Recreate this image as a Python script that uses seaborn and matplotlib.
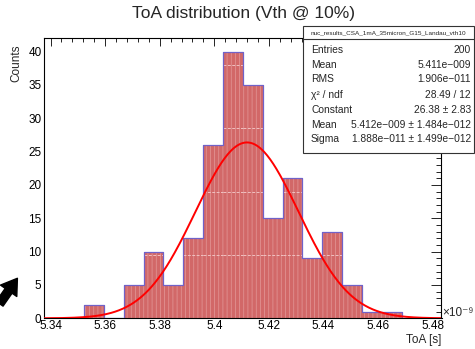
import numpy as np
import pandas as pd
import seaborn as sns
import matplotlib
matplotlib.use("Agg")
import matplotlib.pyplot as plt
from matplotlib.ticker import MultipleLocator, FuncFormatter
from matplotlib.patches import Rectangle, FancyArrowPatch
from matplotlib.lines import Line2D

# ---------------- data (x in units of 1e-9 s) ----------------
bin_low = 5.3377          # lower edge of histogram
bin_width = 0.00728       # bin width
counts = [0, 0, 2, 0, 5, 10, 5, 12, 26, 40, 35, 15, 21, 9, 13, 5, 1, 1, 0, 0]
fit_constant = 26.38
fit_mean = 5.412          # x1e-9
fit_sigma = 0.01888       # x1e-9
title = "ToA distribution (Vth @ 10%)"
stats_name = "nuc_results_CSA_1mA_35micron_G15_Landau_vth10"
stats_labels = ["Entries", "Mean", "RMS", "χ² / ndf", "Constant", "Mean", "Sigma"]
stats_values = ["200", "5.411e−009", "1.906e−011", "28.49 / 12", "26.38 ± 2.83",
                "5.412e−009 ± 1.484e−012", "1.888e−011 ± 1.499e−012"]
artifact_levels = [9.5, 19, 28.5, 38]   # faint light lines seen inside fill pattern

# ---------------- style ----------------
sns.set_theme(style="white")
plt.rcParams["font.family"] = ["Liberation Sans", "DejaVu Sans"]
plt.rcParams["hatch.linewidth"] = 0.5

W, H = 475, 349
fig = plt.figure(figsize=(W / 100, H / 100), dpi=100)

def fx(x):
    return x / W

def fy(y):
    return 1 - y / H

L, R, T, B = 44.3, 441.5, 38.3, 318.3
ax = fig.add_axes([fx(L), fy(B), (R - L) / W, (B - T) / H])

n = len(counts)
edges = [float(v) for v in (bin_low + bin_width * np.arange(n + 1))]
centers = [(a + b) / 2 for a, b in zip(edges[:-1], edges[1:])]
df = pd.DataFrame({"toa": centers, "n": [float(c) for c in counts]})

fill_col = "#d26868"
# filled histogram as one seamless step polygon
sns.histplot(data=df, x="toa", weights="n", bins=edges, element="step", fill=True,
             color=fill_col, alpha=1, linewidth=0, ax=ax)
for c in ax.collections:
    c.set_facecolor(fill_col)
    c.set_edgecolor("#e49a9a")
    c.set_hatch("||||")
    c.set_linewidth(0)
for ln in list(ax.lines):
    ln.remove()

# faint light dashed lines inside the fill
for lev in artifact_levels:
    for lo, hi, c in zip(edges[:-1], edges[1:], counts):
        if c > lev:
            ax.hlines(lev, lo, hi, colors="#f0c0c0", linestyles=(0, (3, 1.5)), lw=0.7, zorder=3)

# histogram outline
sns.histplot(data=df, x="toa", weights="n", bins=edges, element="step", fill=False,
             color="#7062c8", linewidth=0.9, ax=ax, zorder=4)

# gaussian fit
xs = np.linspace(edges[0], edges[-1], 400)
ys = fit_constant * np.exp(-0.5 * ((xs - fit_mean) / fit_sigma) ** 2)
sns.lineplot(x=xs, y=ys, color="#ff0000", linewidth=1.4, ax=ax, zorder=5)

ax.set_xlim(edges[0], edges[-1])
ax.set_ylim(0, 1.05 * max(counts))
ax.set_xlabel("")
ax.set_ylabel("")

ax.xaxis.set_major_locator(MultipleLocator(0.02))
ax.xaxis.set_minor_locator(MultipleLocator(0.004))
ax.xaxis.set_major_formatter(FuncFormatter(lambda v, p: "%g" % round(v, 3)))
ax.yaxis.set_major_locator(MultipleLocator(5))
ax.yaxis.set_minor_locator(MultipleLocator(1))
ax.yaxis.set_major_formatter(FuncFormatter(lambda v, p: "%d" % round(v)))

ax.tick_params(axis="both", which="both", direction="in", top=True, right=True,
               colors="black", labelsize=8.5, width=0.6)
ax.tick_params(axis="x", which="major", length=6, pad=1.5)
ax.tick_params(axis="x", which="minor", length=3)
ax.tick_params(axis="y", which="major", length=7.5, pad=2)
ax.tick_params(axis="y", which="minor", length=3.7)
for s in ax.spines.values():
    s.set_color("black")
    s.set_linewidth(0.8)

# axis titles (ROOT style)
fig.text(fx(R), fy(334), "ToA [s]", ha="right", va="top", fontsize=8.5)
fig.text(fx(16), fy(44), "Counts", ha="center", va="top", rotation=90, fontsize=8.5)
fig.text(fx(442), fy(313), "×10⁻⁹", ha="left", va="center", fontsize=8.5)

# title
fig.text(fx(244), fy(13.5), title, ha="center", va="center", fontsize=12.5)

# stats box
bx0, by0, bx1, by1 = 303, 26, 474, 153
fig.patches.append(Rectangle((fx(bx0), fy(by1)), (bx1 - bx0) / W, (by1 - by0) / H,
                             transform=fig.transFigure, facecolor="white",
                             edgecolor="#333333", linewidth=0.8, zorder=10))
fig.lines.append(Line2D([fx(bx0), fx(bx1)], [fy(39), fy(39)], transform=fig.transFigure,
                        color="#333333", linewidth=0.8, zorder=11))
fig.text(fx((bx0 + bx1) / 2), fy(33), stats_name, ha="center", va="center",
         fontsize=4.6, zorder=12)
row_y = [50, 65, 79.5, 95, 110, 125, 139.5]
for yy, lab, val in zip(row_y, stats_labels, stats_values):
    fig.text(fx(311), fy(yy), lab, ha="left", va="center", fontsize=7.4, zorder=12)
    fig.text(fx(471), fy(yy), val, ha="right", va="center", fontsize=7.4, zorder=12)

# black arrow in lower-left corner
arr = FancyArrowPatch((fx(-2), fy(306)), (fx(19), fy(276)), transform=fig.transFigure,
                      arrowstyle="simple,head_length=1.0,head_width=1.3,tail_width=0.55",
                      mutation_scale=11, color="black", zorder=12)
fig.patches.append(arr)

fig.savefig("out.png", dpi=100)
